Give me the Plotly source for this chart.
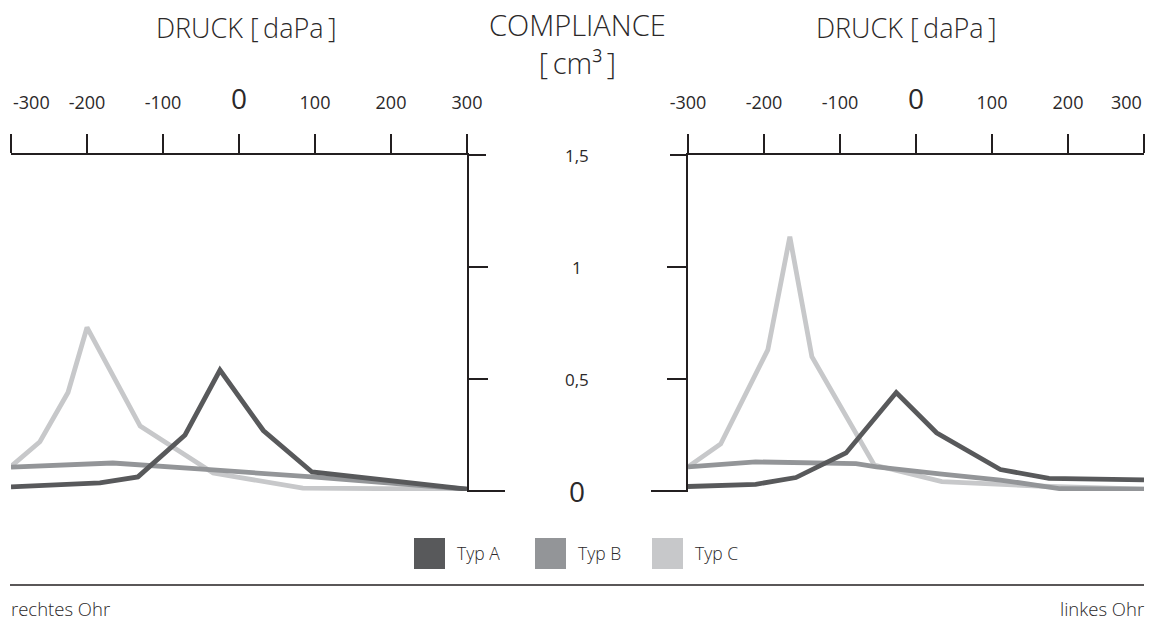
import plotly.graph_objects as go

# ---------------- data ----------------
series_names = ["Typ A", "Typ B", "Typ C"]
series_colors = ["#58595b", "#939598", "#c7c8ca"]

# rechtes Ohr (left panel)
right_ear_A_x = [-300, -183, -133, -71, -25, 32, 96, 300]
right_ear_A_y = [0.018, 0.036, 0.063, 0.25, 0.54, 0.27, 0.085, 0.008]
right_ear_B_x = [-300, -166, -34, 96, 300]
right_ear_B_y = [0.107, 0.125, 0.094, 0.063, 0.008]
right_ear_C_x = [-300, -262, -225, -200, -130, -34, 84, 300]
right_ear_C_y = [0.11, 0.22, 0.44, 0.73, 0.29, 0.08, 0.013, 0.008]

# linkes Ohr (right panel)
left_ear_A_x = [-300, -211, -158, -92, -26, 27, 111, 175, 300]
left_ear_A_y = [0.02, 0.03, 0.06, 0.17, 0.44, 0.26, 0.096, 0.056, 0.05]
left_ear_B_x = [-300, -211, -79, -52, 31, 111, 190, 300]
left_ear_B_y = [0.108, 0.13, 0.122, 0.108, 0.076, 0.049, 0.01, 0.008]
left_ear_C_x = [-300, -257, -195, -166, -137, -55, 34, 176, 300]
left_ear_C_y = [0.108, 0.21, 0.63, 1.135, 0.60, 0.116, 0.042, 0.02, 0.008]

x_tick_vals = [-300, -200, -100, 0, 100, 200, 300]
x_tick_text = ["-300", "-200", "-100", "0", "100", "200", "300"]
y_tick_vals = [0, 0.5, 1, 1.5]
y_tick_text = ["0", "0,5", "1", "1,5"]

title_pressure = "DRUCK [\u2009daPa\u2009]"
title_compliance = "COMPLIANCE<br>[\u2009cm³\u2009]"
ear_labels = ["rechtes Ohr", "linkes Ohr"]

# ---------------- layout helpers ----------------
W, H = 1153, 622
FONT = "Open Sans"
INK = "#231f20"
TXT = "#2b2829"


def px(x):
    return x / W


def py(y):
    return 1 - y / H


def fmt_ticks(texts, hide_index):
    out = []
    for i, t in enumerate(texts):
        if i == hide_index:
            t = ""
        elif t == "0":
            t = "<span style='font-size:28px'>0</span>"
        out.append(t)
    return out


fig = go.Figure()

panels = [
    ("x", "y", [right_ear_A_x, right_ear_B_x, right_ear_C_x], [right_ear_A_y, right_ear_B_y, right_ear_C_y]),
    ("x2", "y2", [left_ear_A_x, left_ear_B_x, left_ear_C_x], [left_ear_A_y, left_ear_B_y, left_ear_C_y]),
]
for xa, ya, xs, ys in panels:
    for i in [2, 1, 0]:
        fig.add_trace(go.Scatter(
            x=xs[i], y=ys[i], mode="lines", name=series_names[i],
            line=dict(color=series_colors[i], width=4.8),
            xaxis=xa, yaxis=ya, showlegend=False, hoverinfo="skip",
        ))

small_font = dict(family=FONT, size=18, color=TXT)
ydom = [py(491), py(155)]
common_x = dict(
    range=[-300, 300], side="top", showline=True, linecolor=INK, linewidth=2,
    ticks="outside", ticklen=19, tickwidth=1.5, tickcolor=INK,
    tickvals=x_tick_vals, showgrid=False, zeroline=False, automargin=False,
    tickfont=small_font, ticklabelstandoff=18, fixedrange=True,
)
common_y = dict(
    range=[0, 1.5], domain=ydom, showline=True, linecolor=INK, linewidth=2,
    ticks="outside", ticklen=19, tickwidth=1.5, tickcolor=INK,
    tickvals=[0.5, 1], showticklabels=False, showgrid=False, zeroline=False,
    automargin=False, fixedrange=True,
)

fig.update_layout(
    width=W, height=H, margin=dict(l=0, r=0, t=0, b=0, autoexpand=False),
    paper_bgcolor="white", plot_bgcolor="white", showlegend=False,
    xaxis=dict(common_x, domain=[px(11), px(467)], anchor="y", ticktext=fmt_ticks(x_tick_text, 0)),
    yaxis=dict(common_y, anchor="x", side="right"),
    xaxis2=dict(common_x, domain=[px(688), px(1144)], anchor="y2",
                ticktext=fmt_ticks(x_tick_text, len(x_tick_text) - 1)),
    yaxis2=dict(common_y, anchor="x2", side="left"),
)

shapes = []
line_style = dict(color=INK, width=2)
# axis extensions and zero ticks
shapes.append(dict(type="line", xref="paper", yref="paper", x0=px(467), x1=px(486), y0=py(155), y1=py(155), line=line_style))
shapes.append(dict(type="line", xref="paper", yref="paper", x0=px(467), x1=px(505), y0=py(491), y1=py(491), line=line_style))
shapes.append(dict(type="line", xref="paper", yref="paper", x0=px(670), x1=px(688), y0=py(155), y1=py(155), line=line_style))
shapes.append(dict(type="line", xref="paper", yref="paper", x0=px(651), x1=px(688), y0=py(491), y1=py(491), line=line_style))
# bottom rule
shapes.append(dict(type="line", xref="paper", yref="paper", x0=px(10), x1=px(1144), y0=py(585), y1=py(585), line=dict(color=INK, width=1.5)))

annotations = []
# edge tick labels (kept inside the page)
annotations.append(dict(x=x_tick_vals[0], xref="x", y=py(102), yref="paper", text=x_tick_text[0],
                        showarrow=False, xanchor="left", yanchor="middle", font=small_font))
annotations.append(dict(x=x_tick_vals[-1], xref="x2", y=py(102), yref="paper", text=x_tick_text[-1],
                        showarrow=False, xanchor="right", yanchor="middle", font=small_font))
# center y tick labels
for v, t in zip(y_tick_vals, y_tick_text):
    size = 28 if t == "0" else 17
    annotations.append(dict(x=px(577), xref="paper", y=v, yref="y", text=t, showarrow=False,
                            xanchor="center", yanchor="middle",
                            font=dict(family=FONT, size=size, color=TXT)))
# titles
for cx in [246, 906]:
    annotations.append(dict(x=px(cx), xref="paper", y=py(28), yref="paper", text=title_pressure,
                            showarrow=False, xanchor="center", yanchor="middle",
                            font=dict(family=FONT, size=27, color=TXT, weight=300)))
annotations.append(dict(x=px(577), xref="paper", y=py(44), yref="paper", text=title_compliance,
                        showarrow=False, xanchor="center", yanchor="middle",
                        font=dict(family=FONT, size=29, color=TXT, weight=300)))
# legend
legend_sq_x = [414, 535, 652]
for name, col, sx in zip(series_names, series_colors, legend_sq_x):
    shapes.append(dict(type="rect", xref="paper", yref="paper", x0=px(sx), x1=px(sx + 31),
                       y0=py(569), y1=py(538), fillcolor=col, line=dict(width=0)))
    annotations.append(dict(x=px(sx + 41), xref="paper", y=py(553), yref="paper", text=name,
                            showarrow=False, xanchor="left", yanchor="middle",
                            font=dict(family=FONT, size=17.5, color=TXT, weight=300)))
# ear labels
annotations.append(dict(x=px(10), xref="paper", y=py(608), yref="paper", text=ear_labels[0],
                        showarrow=False, xanchor="left", yanchor="middle", borderpad=0,
                        font=dict(family=FONT, size=18.5, color=TXT, weight=300)))
annotations.append(dict(x=px(1145), xref="paper", y=py(608), yref="paper", text=ear_labels[1],
                        showarrow=False, xanchor="right", yanchor="middle", borderpad=0,
                        font=dict(family=FONT, size=18.5, color=TXT, weight=300)))

fig.update_layout(shapes=shapes, annotations=annotations)
fig.write_html(
    "out.html",
    config={"displayModeBar": False, "staticPlot": True},
    post_script="document.body.style.margin='0';document.body.style.overflow='hidden';",
)
